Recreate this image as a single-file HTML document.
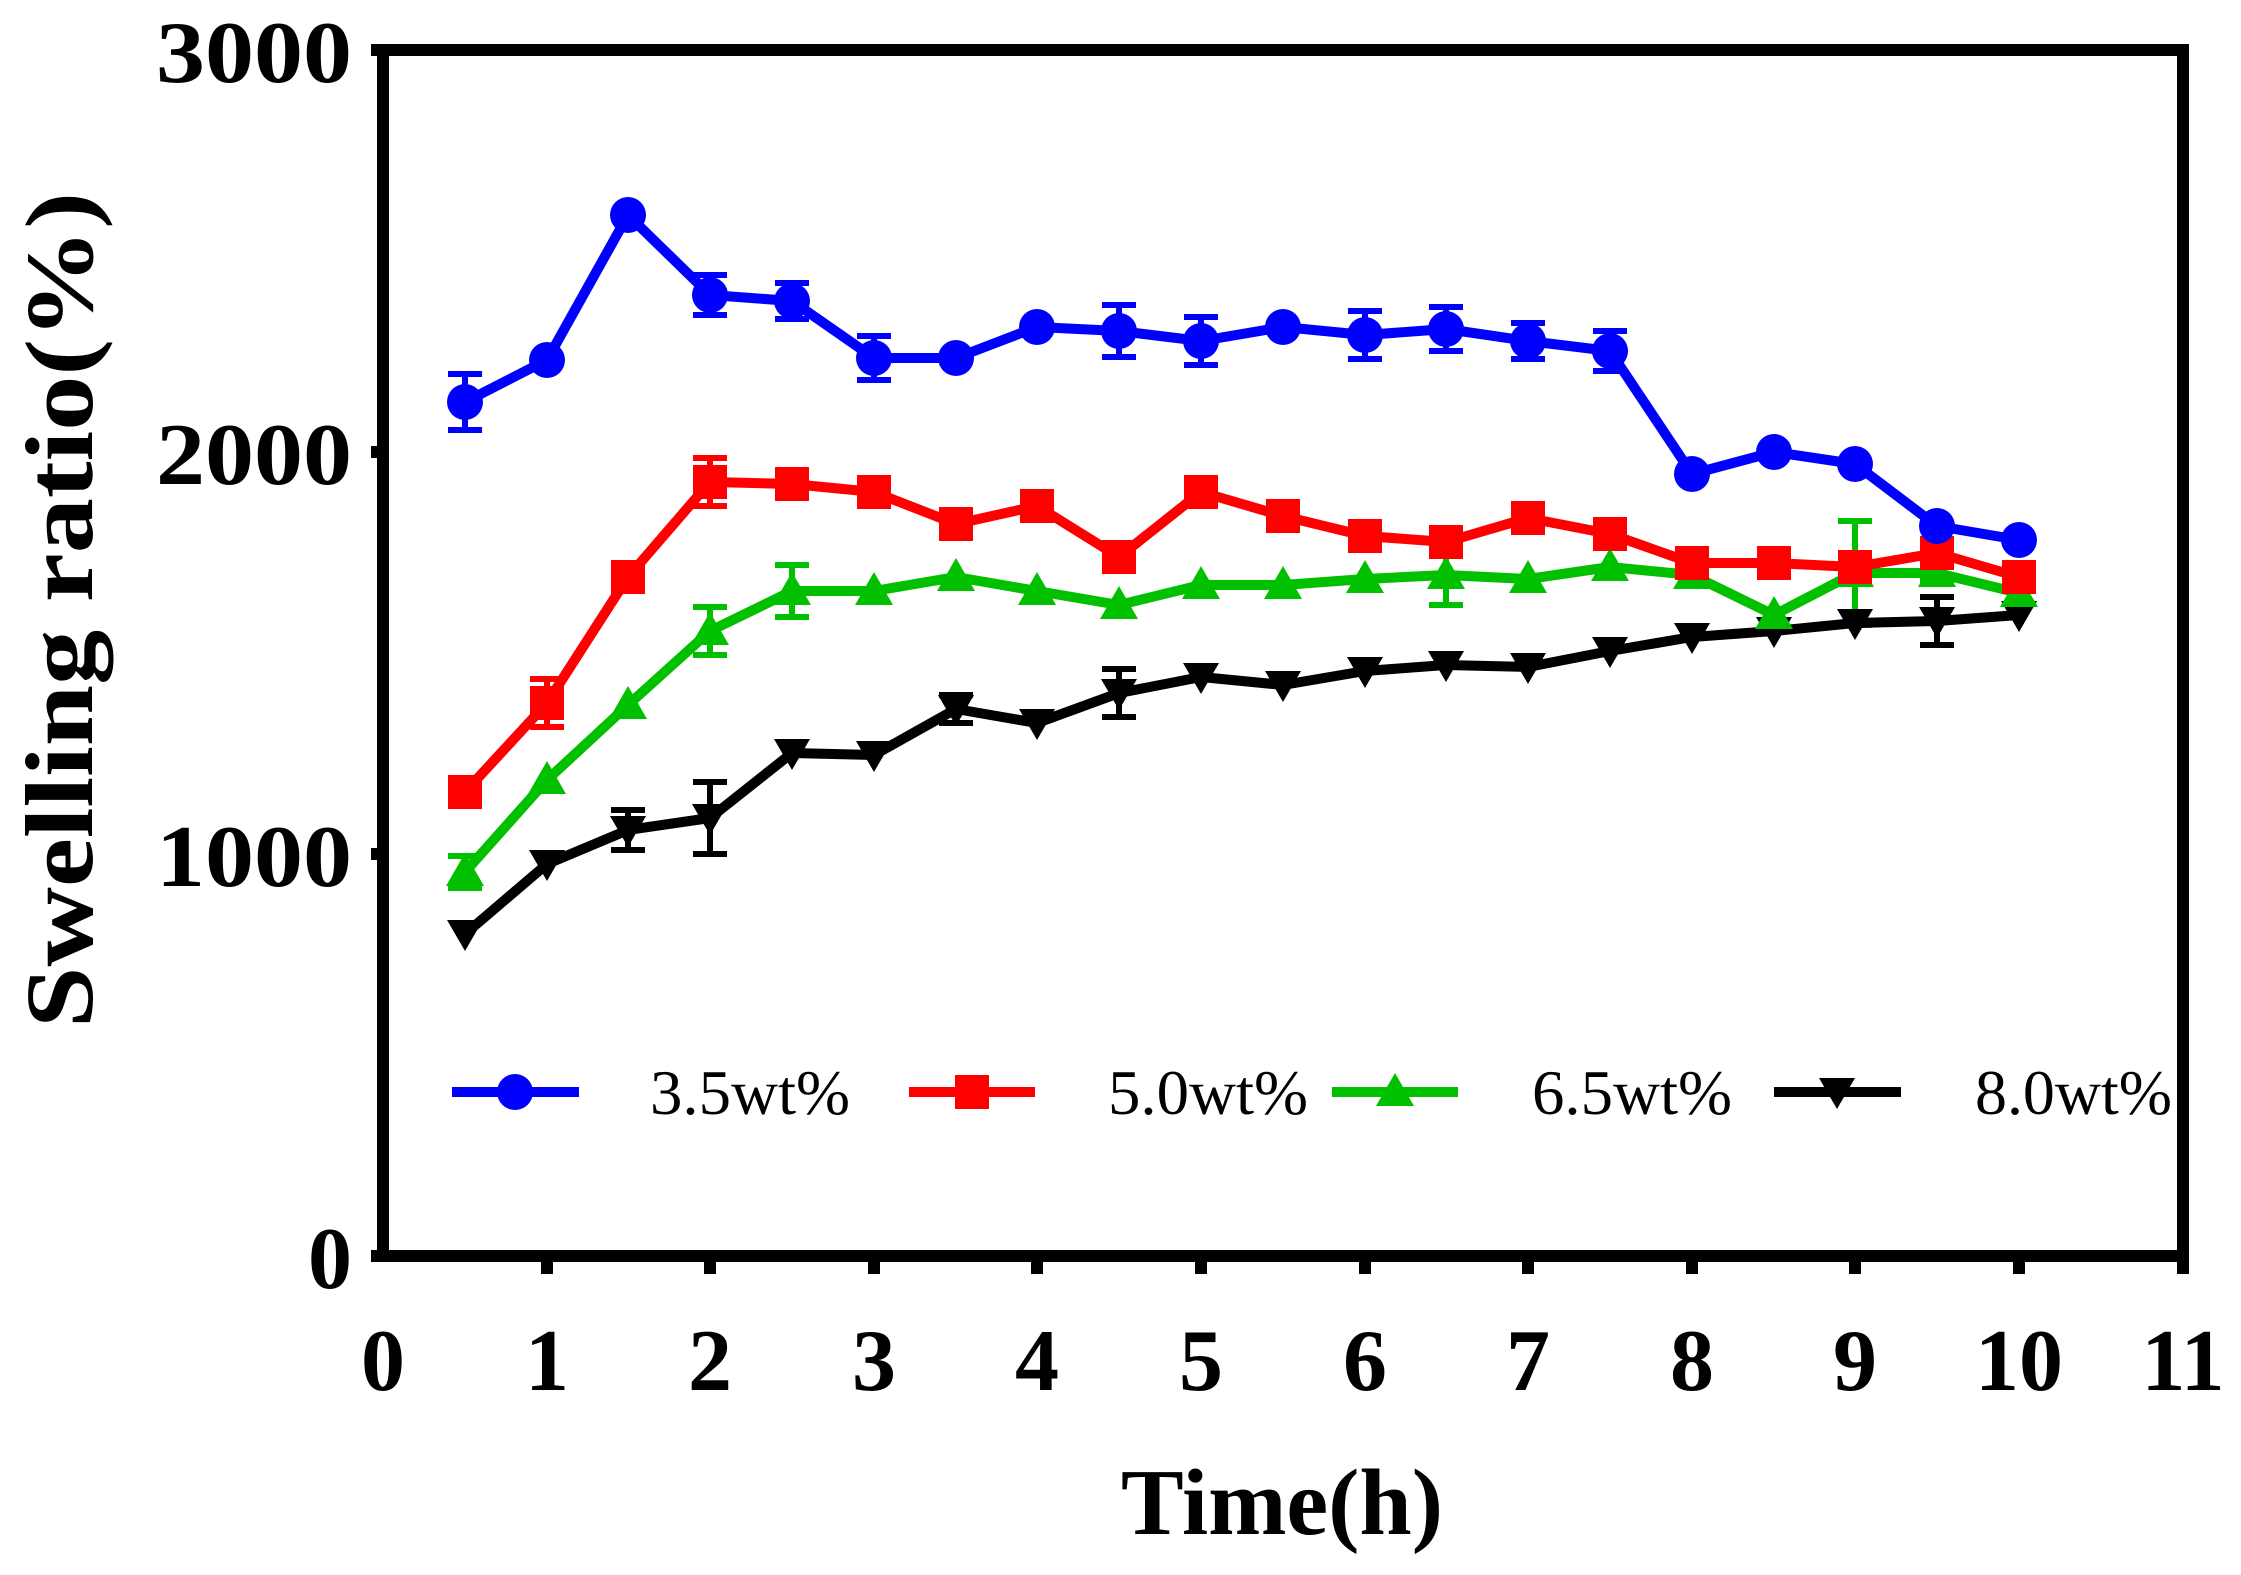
<!DOCTYPE html>
<html><head><meta charset="utf-8"><style>html,body{margin:0;padding:0;background:#fff}svg{display:block}</style></head>
<body>
<svg width="2241" height="1575" viewBox="0 0 2241 1575" xmlns="http://www.w3.org/2000/svg">
<defs>
<circle id="c" cx="0" cy="0" r="18" fill="#0000ff"/>
<rect id="s" x="-17" y="-17" width="34" height="34" fill="#ff0000"/>
<polygon id="t" points="0,-19 19,14 -19,14" fill="#00c000"/>
<polygon id="d" points="0,17 18,-14 -18,-14" fill="#000"/>
</defs>
<g stroke="#000" stroke-width="12" fill="none">
<path d="M383,50 H2183 V1262"/>
<path d="M383,44 V1262 M371,1256 H2183"/>
<path d="M371,50 H383 M371,452 H383 M371,854 H383"/>
<path d="M547,1256 v18 M710,1256 v18 M874,1256 v18 M1037,1256 v18 M1201,1256 v18 M1365,1256 v18 M1528,1256 v18 M1692,1256 v18 M1855,1256 v18 M2019,1256 v18 M2183,1256 v18"/>
</g>
<g font-family="Liberation Serif, serif" font-weight="bold" font-size="88" fill="#000">
<g text-anchor="end"><text x="352" y="82" textLength="196" lengthAdjust="spacingAndGlyphs">3000</text><text x="352" y="484" textLength="196" lengthAdjust="spacingAndGlyphs">2000</text><text x="352" y="886" textLength="196" lengthAdjust="spacingAndGlyphs">1000</text><text x="352" y="1288">0</text></g>
<g text-anchor="middle"><text x="383" y="1390">0</text><text x="547" y="1390">1</text><text x="710" y="1390">2</text><text x="874" y="1390">3</text><text x="1037" y="1390">4</text><text x="1201" y="1390">5</text><text x="1365" y="1390">6</text><text x="1528" y="1390">7</text><text x="1692" y="1390">8</text><text x="1855" y="1390">9</text><text x="2019" y="1390">10</text><text x="2183" y="1390">11</text></g>
<text x="1282" y="1534" text-anchor="middle" font-size="94">Time(h)</text>
<text transform="translate(92,610) rotate(-90)" text-anchor="middle" font-size="96" textLength="836" lengthAdjust="spacingAndGlyphs">Swelling ratio(%)</text>
</g>
<g stroke-width="6" fill="none">
<path stroke="#0000ff" d="M465,374v56M448,374h34M448,430h34 M710,275v40M693,275h34M693,315h34 M792,283v36M775,283h34M775,319h34 M874,336v44M857,336h34M857,380h34 M1119,305v52M1102,305h34M1102,357h34 M1201,317v48M1184,317h34M1184,365h34 M1365,311v48M1348,311h34M1348,359h34 M1446,307v44M1429,307h34M1429,351h34 M1528,323v36M1511,323h34M1511,359h34 M1610,331v40M1593,331h34M1593,371h34"/>
<path stroke="#ff0000" d="M547,679v48M530,679h34M530,727h34 M710,458v48M693,458h34M693,506h34"/>
<path stroke="#00c000" d="M465,856v32M448,856h34M448,888h34 M710,607v48M693,607h34M693,655h34 M792,565v52M775,565h34M775,617h34 M1446,545v60M1429,545h34M1429,605h34 M1855,521v104M1838,521h34M1838,625h34 M1937,565v16M1920,565h34M1920,581h34"/>
<path stroke="#000" d="M628,810v40M611,810h34M611,850h34 M710,782v72M693,782h34M693,854h34 M956,695v28M939,695h34M939,723h34 M1119,669v48M1102,669h34M1102,717h34 M1937,597v48M1920,597h34M1920,645h34"/>
</g>
<g fill="none" stroke-width="10" stroke-linejoin="round">
<polyline stroke="#000" points="465,934 547,864 628,830 710,818 792,753 874,755 956,709 1037,723 1119,693 1201,677 1283,685 1365,671 1446,665 1528,667 1610,651 1692,637 1774,631 1855,623 1937,621 2019,615"/>
<polyline stroke="#00c000" points="465,872 547,780 628,705 710,631 792,591 874,591 956,577 1037,591 1119,605 1201,585 1283,585 1365,579 1446,575 1528,579 1610,567 1692,575 1774,615 1855,573 1937,573 2019,593"/>
<polyline stroke="#ff0000" points="465,792 547,703 628,577 710,482 792,484 874,492 956,524 1037,506 1119,557 1201,492 1283,516 1365,536 1446,542 1528,518 1610,534 1692,563 1774,563 1855,567 1937,553 2019,577"/>
<polyline stroke="#0000ff" points="465,402 547,360 628,215 710,295 792,301 874,358 956,358 1037,327 1119,331 1201,341 1283,327 1365,335 1446,329 1528,341 1610,351 1692,474 1774,452 1855,464 1937,526 2019,540"/>
</g>
<g>
<use href="#d" x="465" y="934"/><use href="#d" x="547" y="864"/><use href="#d" x="628" y="830"/><use href="#d" x="710" y="818"/><use href="#d" x="792" y="753"/><use href="#d" x="874" y="755"/><use href="#d" x="956" y="709"/><use href="#d" x="1037" y="723"/><use href="#d" x="1119" y="693"/><use href="#d" x="1201" y="677"/><use href="#d" x="1283" y="685"/><use href="#d" x="1365" y="671"/><use href="#d" x="1446" y="665"/><use href="#d" x="1528" y="667"/><use href="#d" x="1610" y="651"/><use href="#d" x="1692" y="637"/><use href="#d" x="1774" y="631"/><use href="#d" x="1855" y="623"/><use href="#d" x="1937" y="621"/><use href="#d" x="2019" y="615"/>
<use href="#t" x="465" y="872"/><use href="#t" x="547" y="780"/><use href="#t" x="628" y="705"/><use href="#t" x="710" y="631"/><use href="#t" x="792" y="591"/><use href="#t" x="874" y="591"/><use href="#t" x="956" y="577"/><use href="#t" x="1037" y="591"/><use href="#t" x="1119" y="605"/><use href="#t" x="1201" y="585"/><use href="#t" x="1283" y="585"/><use href="#t" x="1365" y="579"/><use href="#t" x="1446" y="575"/><use href="#t" x="1528" y="579"/><use href="#t" x="1610" y="567"/><use href="#t" x="1692" y="575"/><use href="#t" x="1774" y="615"/><use href="#t" x="1855" y="573"/><use href="#t" x="1937" y="573"/><use href="#t" x="2019" y="593"/>
<use href="#s" x="465" y="792"/><use href="#s" x="547" y="703"/><use href="#s" x="628" y="577"/><use href="#s" x="710" y="482"/><use href="#s" x="792" y="484"/><use href="#s" x="874" y="492"/><use href="#s" x="956" y="524"/><use href="#s" x="1037" y="506"/><use href="#s" x="1119" y="557"/><use href="#s" x="1201" y="492"/><use href="#s" x="1283" y="516"/><use href="#s" x="1365" y="536"/><use href="#s" x="1446" y="542"/><use href="#s" x="1528" y="518"/><use href="#s" x="1610" y="534"/><use href="#s" x="1692" y="563"/><use href="#s" x="1774" y="563"/><use href="#s" x="1855" y="567"/><use href="#s" x="1937" y="553"/><use href="#s" x="2019" y="577"/>
<use href="#c" x="465" y="402"/><use href="#c" x="547" y="360"/><use href="#c" x="628" y="215"/><use href="#c" x="710" y="295"/><use href="#c" x="792" y="301"/><use href="#c" x="874" y="358"/><use href="#c" x="956" y="358"/><use href="#c" x="1037" y="327"/><use href="#c" x="1119" y="331"/><use href="#c" x="1201" y="341"/><use href="#c" x="1283" y="327"/><use href="#c" x="1365" y="335"/><use href="#c" x="1446" y="329"/><use href="#c" x="1528" y="341"/><use href="#c" x="1610" y="351"/><use href="#c" x="1692" y="474"/><use href="#c" x="1774" y="452"/><use href="#c" x="1855" y="464"/><use href="#c" x="1937" y="526"/><use href="#c" x="2019" y="540"/>
</g>
<g stroke-width="10">
<line x1="452" y1="1092" x2="579" y2="1092" stroke="#0000ff"/>
<line x1="909" y1="1092" x2="1035" y2="1092" stroke="#ff0000"/>
<line x1="1332" y1="1092" x2="1458" y2="1092" stroke="#00c000"/>
<line x1="1774" y1="1092" x2="1901" y2="1092" stroke="#000"/>
</g>
<use href="#c" x="515" y="1092"/><use href="#s" x="972" y="1092"/><use href="#t" x="1395" y="1092"/><use href="#d" x="1837" y="1092"/>
<g font-family="Liberation Serif, serif" font-size="64" fill="#000">
<text x="650" y="1114" textLength="200" lengthAdjust="spacingAndGlyphs">3.5wt%</text><text x="1108" y="1114" textLength="200" lengthAdjust="spacingAndGlyphs">5.0wt%</text><text x="1532" y="1114" textLength="200" lengthAdjust="spacingAndGlyphs">6.5wt%</text><text x="1975" y="1114" textLength="197" lengthAdjust="spacingAndGlyphs">8.0wt%</text>
</g>
</svg>
</body></html>
